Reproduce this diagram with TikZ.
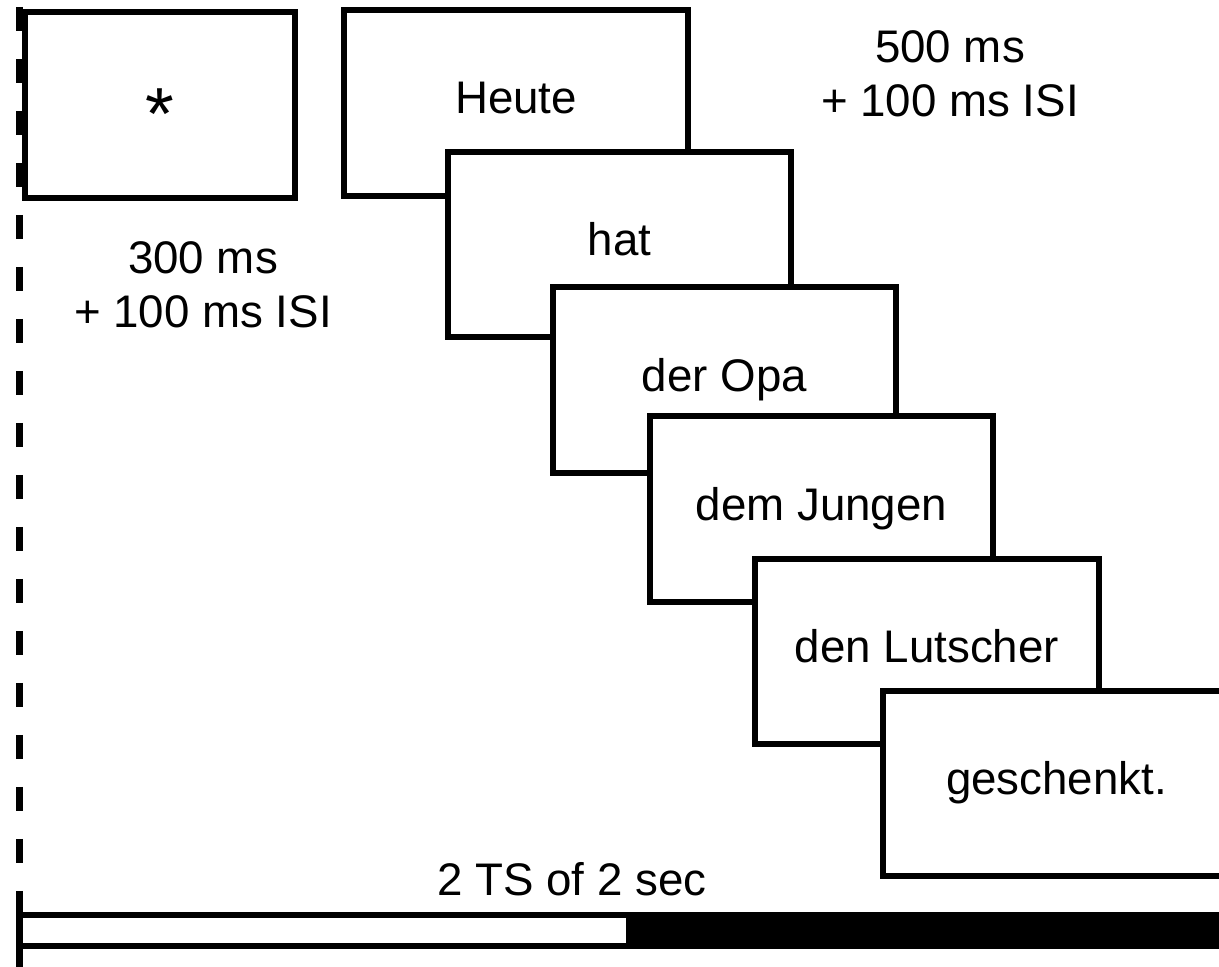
\documentclass[tikz,border=0pt]{standalone}
\usepackage{fontspec}
\setmainfont{Liberation Sans}

\begin{document}
\begin{tikzpicture}[x=0.02cm,y=-0.02cm,font=\fontsize{26}{31}\selectfont,
  frame/.style={draw,line width=0.12cm,fill=white,minimum width=6.88cm,minimum height=3.72cm,inner sep=0pt,text height=0.64cm,text depth=0.2cm},
  note/.style={align=center,inner sep=0pt}]
\useasboundingbox (0,0) rectangle (1219,966);
\clip (0,0) rectangle (1219,966);
\draw[line width=0.13cm,dash pattern=on 0.48cm off 0.56cm] (19.5,7) -- (19.5,892);
\draw[line width=0.13cm] (19.5,892) -- (19.5,970);
\node[frame,minimum width=5.4cm] (fix) at (160,105) {\raisebox{-0.48cm}{\fontsize{42}{42}\selectfont *}};
\node[frame] (heute) at (516,102.75) {Heute};
\node[frame] (hat) at (619.5,244.5) {hat};
\node[frame] (opa) at (724.5,380) {der Opa};
\node[frame] (jungen) at (821.5,509) {dem Jungen};
\node[frame] (lutscher) at (927,651.5) {den Lutscher};
\node[frame,text width=4.36cm,align=left] (gesch) at (1055,783.5) {geschenkt.};
\node[note] (isi500) at (950,74) {500 ms\\+ 100 ms ISI};
\node[note] (isi300) at (203,285) {300 ms\\+ 100 ms ISI};
\node[note] (ts) at (572,879) {2 TS of 2 sec};
\fill[black] (626,914.5) rectangle (1230,945.5);
\draw[line width=0.12cm] (19.5,914.5) -- (1230,914.5) (19.5,945.5) -- (1230,945.5);
\end{tikzpicture}
\end{document}
